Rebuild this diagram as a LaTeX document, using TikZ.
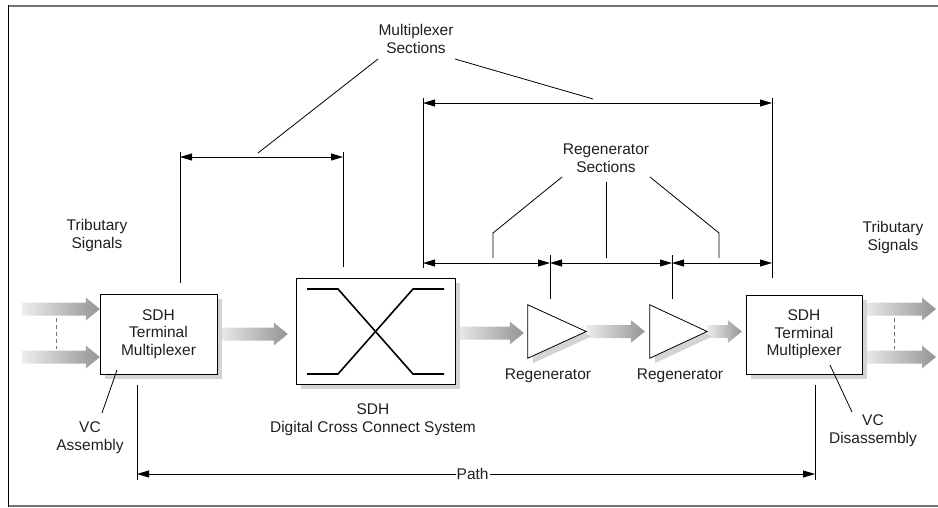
\documentclass[tikz,border=0pt]{standalone}
\usepackage{fontspec}
\setmainfont{Liberation Sans}
\usetikzlibrary{arrows.meta,calc,shadows}

% broad grey signal arrow from the point #1 to the x position of #2
\newcommand\sigarrow[2]{%
  \path[left color=black!7, right color=black!42]
    let \p1=(#1), \p2=(#2) in
    (\x1,\y1+6.5pt) -- (\x2-14pt,\y1+6.5pt) -- (\x2-14pt,\y1+11.5pt) -- (\x2,\y1)
    -- (\x2-14pt,\y1-11.5pt) -- (\x2-14pt,\y1-6.5pt) -- (\x1,\y1-6.5pt) -- cycle;}

\begin{document}
\begin{tikzpicture}[x=1pt,y=-1pt,
  txt/.style={font=\fontsize{15.5}{18}\selectfont, text=black!88, align=center, inner sep=1pt},
  boxshadow/.style={drop shadow={shadow xshift=5pt, shadow yshift=-5pt, fill=black!17, opacity=1}},
  unit/.style={draw, line width=0.9pt, fill=white, boxshadow, txt, inner sep=0pt},
  leader/.style={line width=0.8pt, black},
  dimline/.style={line width=0.8pt, {Triangle[length=12pt,width=7pt]}-{Triangle[length=12pt,width=7pt]}},
  tribdash/.style={dashed, dash pattern=on 4pt off 3pt, black!55, line width=0.9pt}]

\useasboundingbox (0,0) rectangle (938,507);

% frame
\draw[black!55, line width=2pt] (8,6) -- (938,6);
\draw[black!55, line width=2pt] (8,506) -- (938,506);
\draw[black, line width=1pt] (8,5) -- (8,507);

% equipment
\node[minimum width=117, minimum height=80, inner sep=0] (tmL) at (158.5,334) {};
\node[minimum width=159, minimum height=106, inner sep=0] (xc) at (375.5,331) {};
\node[minimum width=58, minimum height=53, inner sep=0] (r1) at (557,331.5) {};
\node[minimum width=57, minimum height=53, inner sep=0] (r2) at (678.5,331.5) {};
\node[minimum width=116, minimum height=79, inner sep=0] (tmR) at (804,334.5) {};

% signal flow
\coordinate (inA) at (22,309);
\coordinate (inB) at (22,357);
\coordinate (outA) at (936,309);
\coordinate (outB) at (936,357);
\sigarrow{inA}{tmL.west |- inA}
\sigarrow{inB}{tmL.west |- inB}
\sigarrow{tmL.east}{$(xc.west)+(-8,0)$}
\sigarrow{$(xc.east)+(0,2)$}{$(r1.west)+(-4,0)$}
\sigarrow{r1.east}{$(r2.west)+(-5,0)$}
\sigarrow{r2.east}{$(tmR.west)+(-4,0)$}
\sigarrow{tmR.east |- outA}{outA}
\sigarrow{tmR.east |- outB}{outB}
\draw[tribdash] (56,318) -- (56,349);
\draw[tribdash] (894,318) -- (894,349);

% terminal multiplexers
\node[unit, minimum width=117, minimum height=80] at (tmL) {\raisebox{3pt}{\begin{tabular}{@{}c@{}}SDH\\[-0.5pt]Terminal\\[-0.5pt]Multiplexer\end{tabular}}};
\node[unit, minimum width=116, minimum height=79] at (tmR) {\raisebox{3pt}{\begin{tabular}{@{}c@{}}SDH\\[-0.5pt]Terminal\\[-0.5pt]Multiplexer\end{tabular}}};

% cross connect
\node[unit, minimum width=159, minimum height=106] at (xc) {};
\draw[line width=1.6pt] ($(xc.center)+(-68.5,-42)$) -- ($(xc.center)+(-37.5,-42)$)
  -- ($(xc.center)+(37.5,43)$) -- ($(xc.center)+(68.5,43)$);
\draw[line width=1.6pt] ($(xc.center)+(-68.5,43)$) -- ($(xc.center)+(-37.5,43)$)
  -- ($(xc.center)+(37.5,-42)$) -- ($(xc.center)+(68.5,-42)$);

% regenerators
\draw[fill=white, line width=0.8pt, boxshadow] (r1.north west) -- (r1.east) -- (r1.south west) -- cycle;
\draw[fill=white, line width=0.8pt, boxshadow] (r2.north west) -- (r2.east) -- (r2.south west) -- cycle;

% labels
\node[txt] (tsL) at (97,235.5) {Tributary\\Signals};
\node[txt] (tsR) at (893,237) {Tributary\\Signals};
\node[txt] (xcl) at (373,419.5) {SDH\\Digital Cross Connect System};
\node[txt] (r1l) at (548,376) {Regenerator};
\node[txt] (r2l) at (680,376) {Regenerator};
\node[txt] (vca) at (90,437.5) {VC\\Assembly};
\node[txt] (vcd) at (873,431) {VC\\Disassembly};
\node[txt] (mux) at (416,39) {Multiplexer\\Sections};
\node[txt] (rgs) at (606,158) {Regenerator\\Sections};

% VC leaders
\coordinate (vcaEnd) at (102,413);
\coordinate (vcdEnd) at (852,412);
\draw[leader] (117,370) -- (vcaEnd);
\draw[leader] (830,365) -- (vcdEnd);

% multiplexer section dimensions
\coordinate (m1a) at (180,157);
\coordinate (m1b) at (343,157);
\coordinate (m2a) at (423,103);
\coordinate (m2b) at (772,103);
\draw[leader] (180,152) -- (180,283);
\draw[leader] (343,152) -- (343,267);
\draw[leader] (423,98) -- (423,268);
\draw[leader] (772,98) -- (772,278);
\draw[dimline] (m1a) -- (m1b);
\draw[dimline] (m2a) -- (m2b);
\draw[leader] (378,59) -- (258,153);
\draw[leader] (455,59) -- (593,99);

% regenerator section dimensions
\coordinate (g1) at (423,263);
\coordinate (g2) at (550,263);
\coordinate (g3) at (672,263);
\coordinate (g4) at (772,263);
\draw[leader] (550,255) -- (550,299);
\draw[leader] (672,255) -- (672,299);
\draw[dimline] (g1) -- (g2);
\draw[dimline] (g2) -- (g3);
\draw[dimline] (g3) -- (g4);
\draw[leader] (562,177) -- (493,233) -- (493,258);
\draw[leader] (606,182) -- (606,258);
\draw[leader] (650,177) -- (719,233) -- (719,258);

% path
\coordinate (pA) at (137,474);
\coordinate (pB) at (815,474);
\draw[leader] (137,385) -- (137,480);
\draw[leader] (815,385) -- (815,480);
\draw[dimline] (pA) -- (pB) node[pos=0.495, txt, fill=white, inner sep=1pt] {Path};
\end{tikzpicture}
\end{document}
